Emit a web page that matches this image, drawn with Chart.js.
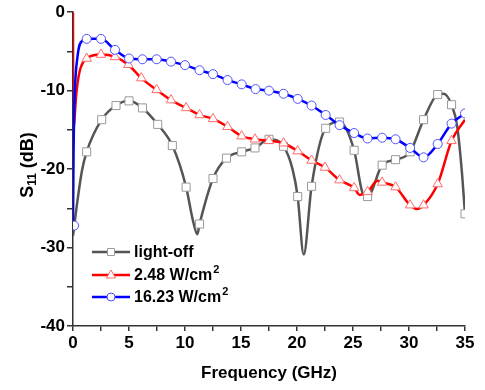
<!DOCTYPE html>
<html lang="en">
<head>
    <meta charset="UTF-8">
    <title>S11 vs Frequency</title>
    <script src="https://cdn.jsdelivr.net/npm/chart.js"></script>
    <style>
        body { margin: 0; background: #fff; }
        #wrap { width: 485px; height: 390px; }
    </style>
</head>
<body>
    <div id="wrap"><canvas id="s11Chart" width="485" height="390"></canvas></div>
    <script>
        // light-off (gray, squares)
        const offFreq = [0, 0.42, 0.8, 1.22, 2.56, 3.84, 5.0, 6.2, 7.56, 8.87, 10.1, 10.7, 11.1, 11.3, 12.5, 13.7, 15.06, 16.25, 17.5, 18.8, 19.6, 20.06, 20.6, 21.3, 22.56, 23.8, 25.1, 25.9, 26.3, 27.6, 28.8, 30.1, 31.3, 32.56, 33.1, 33.8, 34.3, 34.7, 35];
        const offS11 = [-28.5, -23.8, -20.2, -17.8, -13.7, -11.9, -11.3, -12.2, -14.3, -17.0, -22.3, -26.5, -28.3, -27.0, -21.2, -18.6, -17.8, -17.3, -16.2, -17.1, -20.0, -23.5, -30.9, -22.2, -14.8, -14.0, -17.6, -23.2, -23.5, -19.5, -18.8, -17.8, -13.7, -10.5, -10.4, -11.8, -14.5, -20.0, -25.7];
        const offMarkFreq = [1.22, 2.56, 3.84, 5.0, 6.2, 7.56, 8.87, 10.1, 11.3, 12.5, 13.7, 15.06, 16.25, 17.5, 18.8, 20.06, 21.3, 22.56, 23.8, 25.1, 26.3, 27.6, 28.8, 30.1, 31.3, 32.56, 33.8, 35];
        const offMarkS11 = [-17.8, -13.7, -11.9, -11.3, -12.2, -14.3, -17.0, -22.3, -27.0, -21.2, -18.6, -17.8, -17.3, -16.2, -17.1, -23.5, -22.2, -14.8, -14.0, -17.6, -23.5, -19.5, -18.8, -17.8, -13.7, -10.5, -11.8, -25.7];

        // 2.48 W/cm2 (red, triangles)
        const lowFreq = [0, 0.02, 0.3, 0.6, 1.22, 2.5, 3.75, 4.94, 6.1, 7.47, 8.75, 10.1, 11.3, 12.5, 13.8, 15.06, 16.25, 17.5, 18.8, 20.06, 21.3, 22.5, 23.8, 25.1, 25.6, 26.3, 27.2, 27.6, 28.8, 30.1, 30.7, 31.3, 32.56, 33.8, 35];
        const lowS11 = [0, -15, -10.3, -7.5, -5.9, -5.4, -5.7, -6.7, -8.4, -9.9, -11.2, -12.2, -13.1, -13.6, -14.6, -15.8, -16.2, -16.4, -16.7, -17.7, -18.9, -19.8, -21.4, -22.4, -23.3, -22.9, -21.5, -21.7, -22.3, -24.6, -25.1, -24.6, -21.9, -16.4, -13.7];
        const lowMarkFreq = [1.22, 2.5, 3.75, 4.94, 6.1, 7.47, 8.75, 10.1, 11.3, 12.5, 13.8, 15.06, 16.25, 17.5, 18.8, 20.06, 21.3, 22.5, 23.8, 25.1, 26.3, 27.6, 28.8, 30.1, 31.3, 32.56, 33.8];
        const lowMarkS11 = [-5.9, -5.4, -5.7, -6.7, -8.4, -9.9, -11.2, -12.2, -13.1, -13.6, -14.6, -15.8, -16.2, -16.4, -16.7, -17.7, -18.9, -19.8, -21.4, -22.4, -22.9, -21.7, -22.3, -24.6, -24.6, -21.9, -16.4];

        // 16.23 W/cm2 (blue, circles)
        const highFreq = [0, 0.05, 0.12, 0.4, 0.87, 1.22, 2.5, 3.75, 5.0, 6.2, 7.47, 8.75, 10.0, 11.3, 12.5, 13.8, 15.06, 16.3, 17.5, 18.8, 20.06, 21.3, 22.56, 23.8, 25.1, 26.3, 27.6, 28.8, 30.1, 31.3, 32.56, 33.8, 35];
        const highS11 = [-27.2, -18, -12, -5.7, -3.6, -3.4, -3.4, -4.8, -5.9, -6.0, -6.0, -6.3, -6.75, -7.4, -7.9, -8.65, -9.2, -9.8, -10.0, -10.4, -11.05, -11.9, -13.1, -14.4, -15.4, -16.1, -16.0, -16.2, -17.3, -18.5, -16.8, -14.2, -12.9];
        const highMarkFreq = [0.1, 1.22, 2.5, 3.75, 5.0, 6.2, 7.47, 8.75, 10.0, 11.3, 12.5, 13.8, 15.06, 16.3, 17.5, 18.8, 20.06, 21.3, 22.56, 23.8, 25.1, 26.3, 27.6, 28.8, 30.1, 31.3, 32.56, 33.8, 35];
        const highMarkS11 = [-27.2, -3.4, -3.4, -4.8, -5.9, -6.0, -6.0, -6.3, -6.75, -7.4, -7.9, -8.65, -9.2, -9.8, -10.0, -10.4, -11.05, -11.9, -13.1, -14.4, -15.4, -16.1, -16.0, -16.2, -17.3, -18.5, -16.8, -14.2, -12.9];

        const toXY = (xs, ys) => xs.map((x, i) => ({ x: x, y: ys[i] }));

        const series = [
            { name: 'light-off', sup: '', line: '#555555', mark: '#9a9a9a', style: 'rect', r: 5.7 },
            { name: '2.48 W/cm', sup: '2', line: '#ff0000', mark: '#ff6b6b', style: 'triangle', r: 5.5 },
            { name: '16.23 W/cm', sup: '2', line: '#0000ff', mark: '#5050ff', style: 'circle', r: 4.5 }
        ];

        function lineSet(xs, ys, s, order) {
            return {
                data: toXY(xs, ys),
                borderColor: s.line,
                borderWidth: 2.5,
                pointRadius: 0,
                cubicInterpolationMode: 'monotone',
                showLine: true,
                order: order
            };
        }

        function markSet(xs, ys, s, order) {
            return {
                data: toXY(xs, ys),
                showLine: false,
                pointStyle: s.style,
                pointRadius: s.r,
                pointBorderColor: s.mark,
                pointBackgroundColor: '#ffffff',
                pointBorderWidth: 1,
                order: order
            };
        }

        // draws one legend marker by hand
        function drawMark(ctx, s, x, y) {
            ctx.save();
            ctx.fillStyle = '#fff';
            ctx.strokeStyle = s.mark;
            ctx.lineWidth = 1;
            ctx.beginPath();
            if (s.style === 'rect') {
                ctx.rect(x - 3.5, y - 3.5, 7, 7);
            } else if (s.style === 'triangle') {
                ctx.moveTo(x, y - 5);
                ctx.lineTo(x + 4.5, y + 3);
                ctx.lineTo(x - 4.5, y + 3);
                ctx.closePath();
            } else {
                ctx.arc(x, y, 4, 0, Math.PI * 2);
            }
            ctx.fill();
            ctx.stroke();
            ctx.restore();
        }

        const extras = {
            id: 'extras',
            afterDraw(chart) {
                const ctx = chart.ctx;
                const area = chart.chartArea;
                ctx.save();
                ctx.fillStyle = '#000';
                ctx.textBaseline = 'middle';

                // legend
                const rows = [252, 275, 297];
                series.forEach((s, i) => {
                    const y = rows[i];
                    ctx.strokeStyle = s.line;
                    ctx.lineWidth = 2.5;
                    ctx.beginPath();
                    ctx.moveTo(92, y);
                    ctx.lineTo(130, y);
                    ctx.stroke();
                    drawMark(ctx, s, 111, y);
                    ctx.fillStyle = '#000';
                    ctx.font = 'bold 16px "Liberation Sans", Arial, sans-serif';
                    ctx.textAlign = 'left';
                    ctx.fillText(s.name, 134, y + 1);
                    if (s.sup) {
                        const w = ctx.measureText(s.name).width;
                        ctx.font = 'bold 11px "Liberation Sans", Arial, sans-serif';
                        ctx.fillText(s.sup, 134 + w + 1, y - 5);
                    }
                });

                // x title
                ctx.font = 'bold 17px "Liberation Sans", Arial, sans-serif';
                ctx.textAlign = 'center';
                ctx.fillText('Frequency (GHz)', (area.left + area.right) / 2, 373);

                // y title with subscript
                ctx.translate(28, 165);
                ctx.rotate(-Math.PI / 2);
                const big = 'bold 18px "Liberation Sans", Arial, sans-serif';
                const small = 'bold 12px "Liberation Sans", Arial, sans-serif';
                ctx.font = big;
                const wS = ctx.measureText('S').width;
                const wRest = ctx.measureText(' (dB)').width;
                ctx.font = small;
                const wSub = ctx.measureText('11').width;
                let x = -(wS + wSub + wRest) / 2;
                ctx.textAlign = 'left';
                ctx.font = big;
                ctx.fillText('S', x, 0);
                x += wS;
                ctx.font = small;
                ctx.fillText('11', x, 5);
                x += wSub;
                ctx.font = big;
                ctx.fillText(' (dB)', x, 0);
                ctx.restore();
            }
        };

        const axisColor = '#333333';
        const tickFont = { family: '"Liberation Sans", Arial, sans-serif', size: 17, weight: 'bold' };

        new Chart(document.getElementById('s11Chart').getContext('2d'), {
            type: 'scatter',
            data: {
                datasets: [
                    lineSet(offFreq, offS11, series[0], 6),
                    markSet(offMarkFreq, offMarkS11, series[0], 5),
                    lineSet(lowFreq, lowS11, series[1], 4),
                    markSet(lowMarkFreq, lowMarkS11, series[1], 3),
                    lineSet(highFreq, highS11, series[2], 2),
                    markSet(highMarkFreq, highMarkS11, series[2], 1)
                ]
            },
            options: {
                responsive: false,
                animation: false,
                layout: { padding: { top: 10, right: 20, left: 0, bottom: 0 } },
                plugins: {
                    legend: { display: false },
                    tooltip: { enabled: false }
                },
                scales: {
                    x: {
                        type: 'linear',
                        min: 0,
                        max: 35,
                        afterFit: s => { s.height = 64; },
                        ticks: {
                            stepSize: 2.5,
                            autoSkip: false,
                            maxRotation: 0,
                            padding: 2,
                            color: '#000',
                            font: tickFont,
                            callback: v => (v % 5 === 0 ? v : '')
                        },
                        grid: { drawOnChartArea: false, tickLength: 5, color: axisColor, lineWidth: 1.5 },
                        border: { color: axisColor, width: 1.5 }
                    },
                    y: {
                        type: 'linear',
                        min: -40,
                        max: 0,
                        afterFit: s => { s.width = 73; },
                        ticks: {
                            stepSize: 5,
                            autoSkip: false,
                            padding: 2,
                            color: '#000',
                            font: tickFont,
                            callback: v => (v % 10 === 0 ? v : '')
                        },
                        grid: { drawOnChartArea: false, tickLength: 6, color: axisColor, lineWidth: 1.5 },
                        border: { color: axisColor, width: 1.5 }
                    }
                }
            },
            plugins: [extras]
        });
    </script>
</body>
</html>
